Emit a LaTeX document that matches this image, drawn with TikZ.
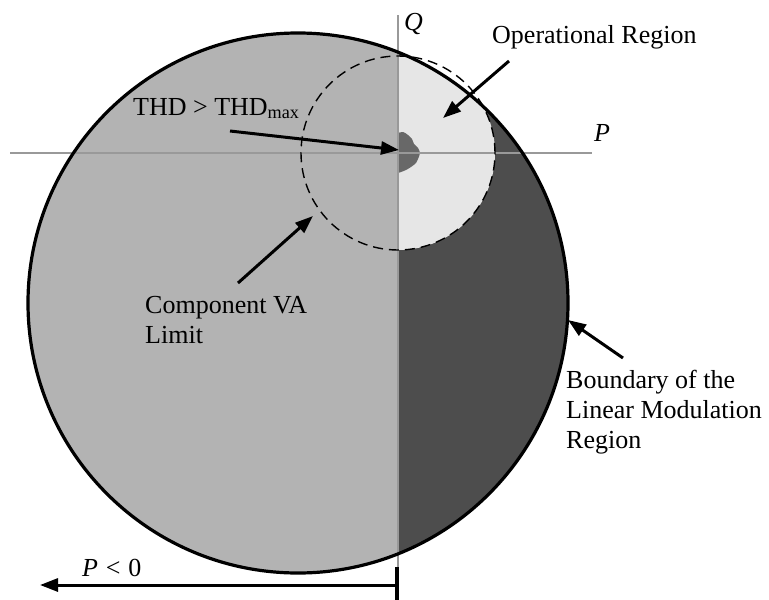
\documentclass[tikz,border=0pt]{standalone}
\usepackage{fontspec}
\setmainfont{Liberation Serif}
\usetikzlibrary{arrows.meta}
\definecolor{leftgray}{HTML}{B3B3B3}
\definecolor{lightop}{HTML}{E6E6E6}
\definecolor{darkreg}{HTML}{4D4D4D}
\definecolor{blobgray}{HTML}{686868}
\definecolor{axisgray}{HTML}{999999}
\tikzset{
  lbl/.style={font=\fontsize{26}{30}\selectfont, inner sep=0pt, anchor=base west, align=left},
  pointer/.style={line width=3pt, -{Triangle[length=18pt,width=13pt]}},
  axisline/.style={axisgray, line width=1.6pt},
  boundary/.style={line width=3.2pt},
  valimit/.style={line width=1.4pt, dash pattern=on 10pt off 6pt},
}
\begin{document}
\begin{tikzpicture}[x=1pt,y=-1pt]
\useasboundingbox (0,0) rectangle (769,600);
\coordinate (C) at (298,303);
\coordinate (O) at (398,153);
% left half
\begin{scope}
  \clip (0,0) rectangle (398,600);
  \fill[leftgray] (C) circle[radius=270pt];
\end{scope}
% right half dark
\begin{scope}
  \clip (398,0) rectangle (769,600);
  \fill[darkreg] (C) circle[radius=270pt];
  \clip (C) circle[radius=270pt];
  \fill[lightop] (O) circle[radius=97pt];
\end{scope}
% blob
\fill[blobgray] (398,133) -- plot[smooth] coordinates {(398,133) (403,132) (408,135) (412,139) (414,144) (418,148) (420,153) (418,159) (416,163) (411,167) (406,170) (401,172) (398,173)} -- cycle;
% axes
\coordinate (xl) at (10,153);
\coordinate (xr) at (592,153);
\coordinate (yt) at (398,15);
\coordinate (yb) at (398,568);
\draw[axisline] (xl) -- (xr);
\draw[axisline] (yt) -- (yb);
% dashed VA limit
\draw[valimit] (O) circle[radius=97pt];
% boundary
\draw[boundary] (C) circle[radius=270pt];
% labels
\node[lbl] (q) at (404,30) {\textit{Q}};
\node[lbl] (p) at (594,141) {\textit{P}};
\node[lbl] (op) at (492,43) {Operational Region};
\node[lbl] (thd) at (133,115) {THD > THD\textsubscript{max}};
\node[lbl] (va) at (145,343) {Component VA\\Limit};
\node[lbl] (bd) at (566,448) {Boundary of the\\Linear Modulation\\Region};
\node[lbl] (pneg) at (82,576) {\textit{P}\hspace{0.3em}<\hspace{0.3em}0};
% pointers
\coordinate (opA) at (509,61);
\coordinate (opB) at (443,118);
\coordinate (thA) at (230,131);
\coordinate (thB) at (399,150);
\coordinate (vaA) at (238,283);
\coordinate (vaB) at (313,216);
\coordinate (bdA) at (623,358);
\coordinate (bdB) at (568,320);
\draw[pointer] (opA) -- (opB);
\draw[pointer] (thA) -- (thB);
\draw[pointer] (vaA) -- (vaB);
\draw[pointer] (bdA) -- (bdB);
% P<0 arrow
\coordinate (pnA) at (397,585);
\coordinate (pnB) at (40,585);
\coordinate (tkA) at (397,567);
\coordinate (tkB) at (397,600);
\draw[pointer] (pnA) -- (pnB);
\draw[line width=3.2pt] (tkA) -- (tkB);
\end{tikzpicture}
\end{document}
